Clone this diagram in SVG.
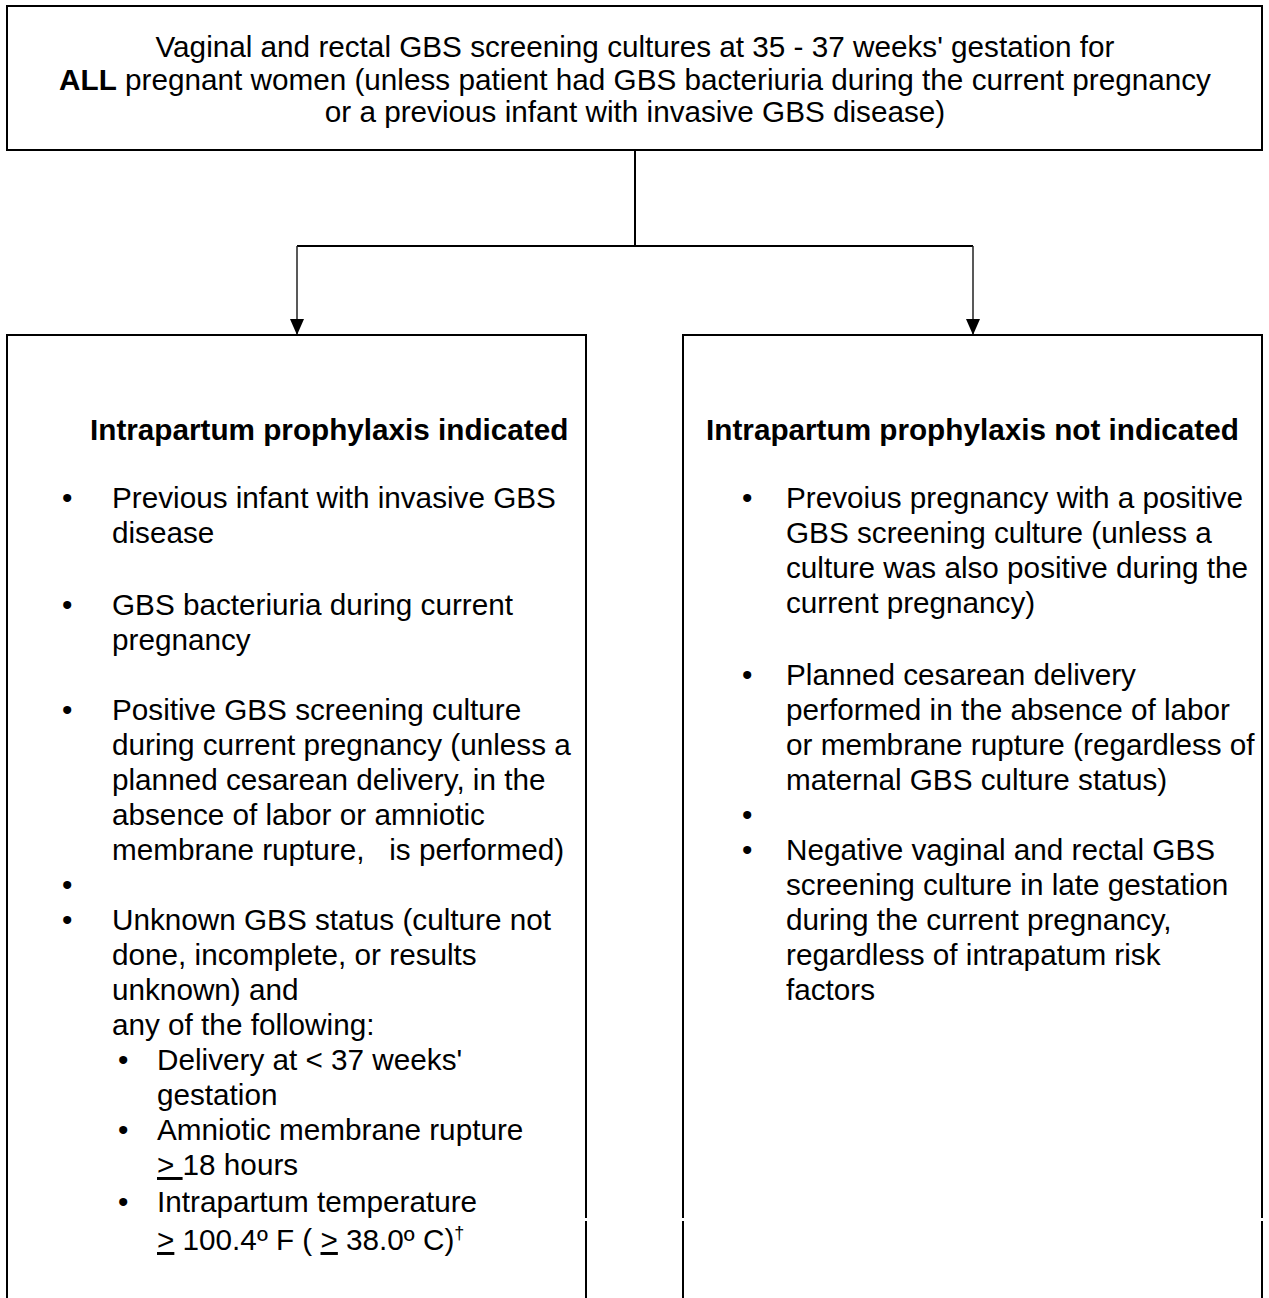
<svg xmlns="http://www.w3.org/2000/svg" width="1269" height="1298" viewBox="0 0 1269 1298">
<style>
  text { font-family: "Liberation Sans", Arial, sans-serif; font-size: 29.7px; fill: #000; }
  .b { font-weight: bold; }
  .mid { text-anchor: middle; }
  .box { fill: none; stroke: #000; stroke-width: 2; }
  .trunk { fill: none; stroke: #000; stroke-width: 2; }
  .drop { fill: none; stroke: #222; stroke-width: 1.5; }
  .u { text-decoration: underline; }
</style>
<defs>
  <marker id="arr" viewBox="0 0 10 10" refX="10" refY="5" markerWidth="16" markerHeight="14" markerUnits="userSpaceOnUse" orient="auto" preserveAspectRatio="none">
    <path d="M0,0 L10,5 L0,10 z" fill="#000"/>
  </marker>
</defs>
<rect width="1269" height="1298" fill="#fff"/>

<g id="connectors">
  <path class="trunk" d="M635,150 V246 M297,246 H973"/>
  <path class="drop" d="M297,246 V335" marker-end="url(#arr)"/>
  <path class="drop" d="M973,246 V335" marker-end="url(#arr)"/>
</g>

<g id="node-screening">
  <rect class="box" x="7" y="6" width="1255" height="144"/>
  <text class="mid" x="635" y="57">Vaginal and rectal GBS screening cultures at 35 - 37 weeks' gestation for</text>
  <text class="mid" x="635" y="90"><tspan class="b">ALL</tspan> pregnant women (unless patient had GBS bacteriuria during the current pregnancy</text>
  <text class="mid" x="635" y="122">or a previous infant with invasive GBS disease)</text>
</g>

<g id="node-indicated">
  <path class="box" d="M7,1310 V335 H586 V1218 M586,1221 V1310"/>
  <text class="b" x="90" y="440">Intrapartum prophylaxis indicated</text>
  <text x="62" y="508">•</text>
  <text x="112" y="508">Previous infant with invasive GBS</text>
  <text x="112" y="543">disease</text>
  <text x="62" y="615">•</text>
  <text x="112" y="615">GBS bacteriuria during current</text>
  <text x="112" y="650">pregnancy</text>
  <text x="62" y="720">•</text>
  <text x="112" y="720">Positive GBS screening culture</text>
  <text x="112" y="755">during current pregnancy (unless a</text>
  <text x="112" y="790">planned cesarean delivery, in the</text>
  <text x="112" y="825">absence of labor or amniotic</text>
  <text x="112" y="860" xml:space="preserve">membrane rupture,   is performed)</text>
  <text x="62" y="895">•</text>
  <text x="62" y="930">•</text>
  <text x="112" y="930">Unknown GBS status (culture not</text>
  <text x="112" y="965">done, incomplete, or results</text>
  <text x="112" y="1000">unknown) and</text>
  <text x="112" y="1035">any of the following:</text>
  <text x="118" y="1070">•</text>
  <text x="157" y="1070">Delivery at &lt; 37 weeks'</text>
  <text x="157" y="1105">gestation</text>
  <text x="118" y="1140">•</text>
  <text x="157" y="1140">Amniotic membrane rupture</text>
  <text x="157" y="1175" xml:space="preserve"><tspan class="u">&gt; </tspan>18 hours</text>
  <text x="118" y="1212">•</text>
  <text x="157" y="1212">Intrapartum temperature</text>
  <text x="157" y="1250" xml:space="preserve"><tspan class="u">&gt;</tspan> 100.4º F ( <tspan class="u">&gt;</tspan> 38.0º C)<tspan font-size="18" dy="-11">†</tspan></text>
</g>

<g id="node-not-indicated">
  <path class="box" d="M683,1218 V335 H1262 V1218 M683,1221 V1310 M1262,1221 V1310"/>
  <text class="b mid" x="972.5" y="440">Intrapartum prophylaxis not indicated</text>
  <text x="742" y="508">•</text>
  <text x="786" y="508">Prevoius pregnancy with a positive</text>
  <text x="786" y="543">GBS screening culture (unless a</text>
  <text x="786" y="578">culture was also positive during the</text>
  <text x="786" y="613">current pregnancy)</text>
  <text x="742" y="685">•</text>
  <text x="786" y="685">Planned cesarean delivery</text>
  <text x="786" y="720">performed in the absence of labor</text>
  <text x="786" y="755">or membrane rupture (regardless of</text>
  <text x="786" y="790">maternal GBS culture status)</text>
  <text x="742" y="825">•</text>
  <text x="742" y="860">•</text>
  <text x="786" y="860">Negative vaginal and rectal GBS</text>
  <text x="786" y="895">screening culture in late gestation</text>
  <text x="786" y="930">during the current pregnancy,</text>
  <text x="786" y="965">regardless of intrapatum risk</text>
  <text x="786" y="1000">factors</text>
</g>
</svg>
